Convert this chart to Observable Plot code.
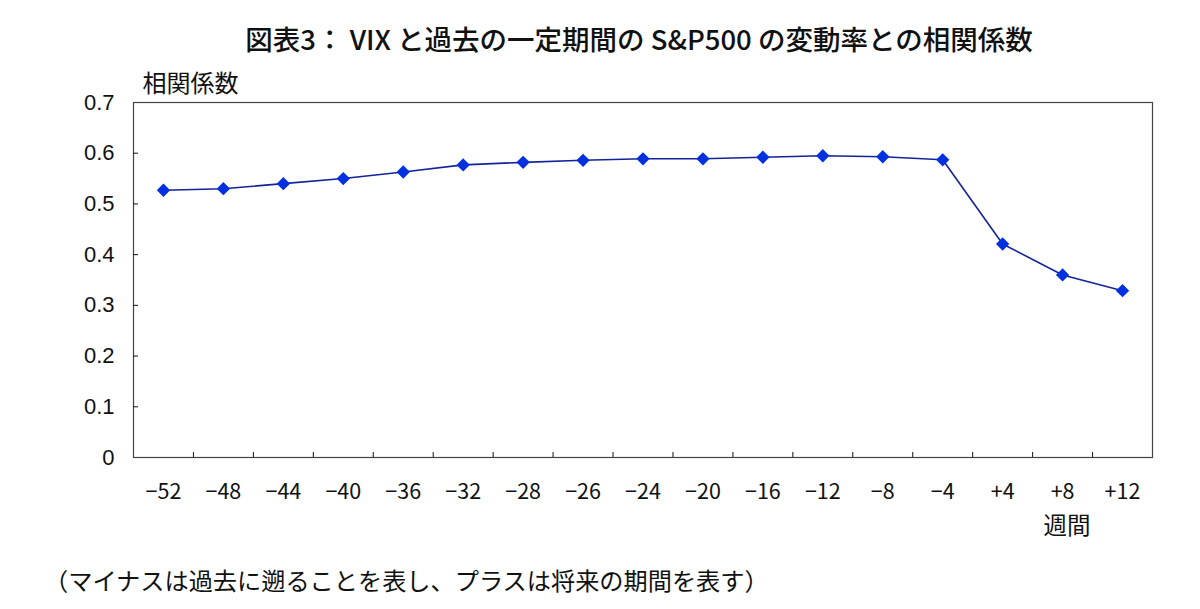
<!DOCTYPE html>
<html><head><meta charset="utf-8">
<script src="https://cdn.jsdelivr.net/npm/d3@7"></script>
<script src="https://cdn.jsdelivr.net/npm/@observablehq/plot@0.6"></script>
<style>
body{margin:0;background:#fff;}
#wrap{position:relative;width:1200px;height:609px;overflow:hidden;font-family:"Noto Sans CJK JP",sans-serif;color:#111;background:#fff;}
#title{position:absolute;left:0;top:20px;width:1200px;padding-left:78px;box-sizing:border-box;text-align:center;font-size:27.5px;line-height:36px;font-weight:500;white-space:nowrap;}
#chart{position:absolute;left:0;top:62px;}
#caption{position:absolute;left:44px;top:562px;font-size:24.2px;line-height:36px;white-space:nowrap;}
</style></head>
<body>
<div id="wrap">
<div id="title">図表3：&nbsp;VIX と過去の一定期間の S&amp;P500 の変動率との相関係数</div>
<div id="chart"></div>
<div id="caption">（マイナスは過去に遡ることを表し、プラスは将来の期間を表す）</div>
</div>
<script>
const weeks = ["−52","−48","−44","−40","−36","−32","−28","−26","−24","−20","−16","−12","−8","−4","+4","+8","+12"];
const corr = [0.527,0.530,0.540,0.550,0.563,0.577,0.582,0.586,0.589,0.589,0.592,0.595,0.593,0.587,0.421,0.360,0.329];
const yTickValues = [0,0.1,0.2,0.3,0.4,0.5,0.6,0.7];
const yLabel = "相関係数";
const xLabel = "週間";

const data = weeks.map((w,i)=>({i, week:w, corr:corr[i]}));
const idx = d3.range(weeks.length);
const bounds = d3.range(1, weeks.length).map(i=>i-0.5);

const plot = Plot.plot({
  width:1200, height:490, marginTop:40, marginBottom:95, marginLeft:133, marginRight:48,
  x:{type:"linear", domain:[-0.5, weeks.length-0.5]},
  y:{domain:[0,0.7]},
  style:{fontFamily:"'Noto Sans CJK JP', sans-serif", fontSize:"20px", color:"#111", background:"white"},
  marks:[
    Plot.frame({stroke:"#444", strokeWidth:1.2}),
    Plot.axisY({ticks: yTickValues, tickSize:0, tickPadding:19, tickFormat: d => d===0 ? "0" : d.toFixed(1), label:null, fontFamily:"'Liberation Sans', Arial, sans-serif", fontSize:22}),
    Plot.axisY({ticks: yTickValues.filter(v => v>0 && v<0.7), tickSize:-5, tickFormat:() => "", label:null}),
    Plot.axisX({ticks: idx, tickSize:0, tickPadding:26, tickFormat: i => weeks[i], label:null, fontSize:21.5}),
    Plot.axisX({ticks: bounds, tickSize:-5, tickFormat:() => "", label:null}),
    Plot.line(data,{x:"i", y:"corr", stroke:"#14239a", strokeWidth:1.6}),
    Plot.dot(data,{x:"i", y:"corr", symbol:"diamond2", r:6, fill:"#0030e0", stroke:"none"}),
    Plot.text([yLabel],{frameAnchor:"top-left", text:d=>d, textAnchor:"start", dx:9, dy:-18, lineAnchor:"middle", fontSize:24}),
    Plot.text([xLabel],{frameAnchor:"bottom-right", text:d=>d, dx:-62, dy:69, lineAnchor:"middle", fontSize:23.5})
  ]
});
document.getElementById("chart").appendChild(plot);
</script>
</body></html>
